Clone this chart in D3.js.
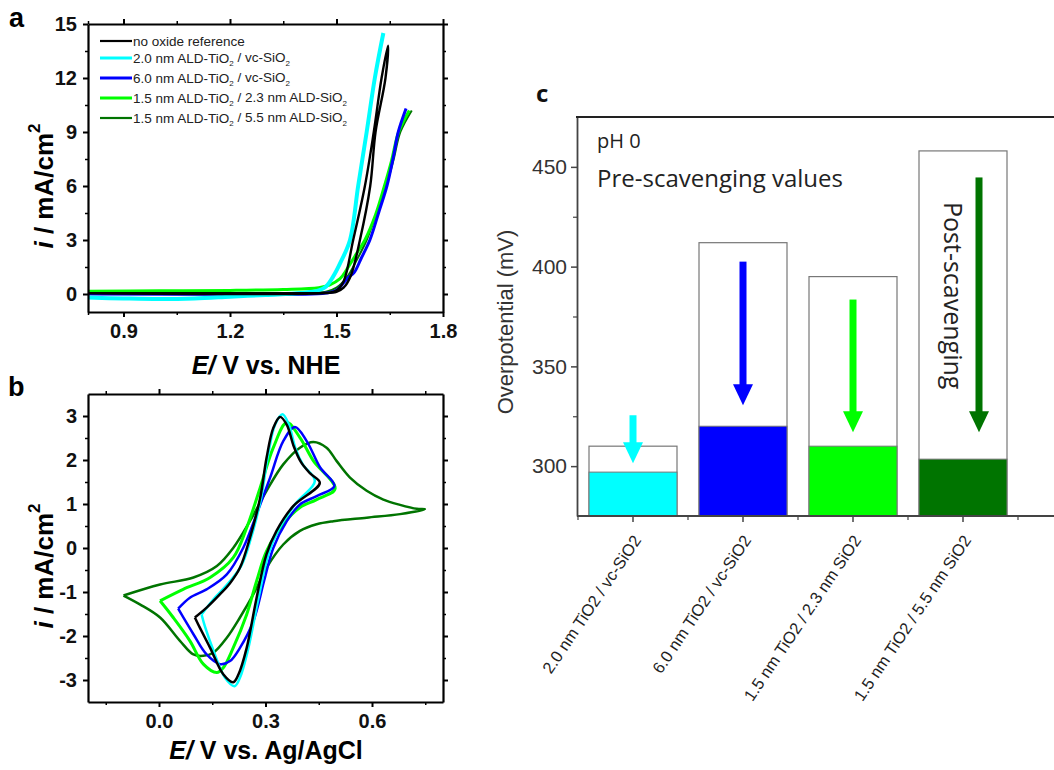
<!DOCTYPE html>
<html>
<head>
<meta charset="utf-8">
<script src="https://cdn.jsdelivr.net/npm/d3@7"></script>
<style>
body { margin: 0; background: #fff; }
</style>
</head>
<body>
<script>
// ---- panel a : LSV curves (E in V vs NHE, i in mA/cm2) ----
var lsvLabels = ['no oxide reference', '2.0 nm ALD-TiO_2 / vc-SiO_2', '6.0 nm ALD-TiO_2 / vc-SiO_2',
                 '1.5 nm ALD-TiO_2 / 2.3 nm ALD-SiO_2', '1.5 nm ALD-TiO_2 / 5.5 nm ALD-SiO_2'];
var lsvBlack = [[0.8,0.05],[1.3,0.05],[1.45,0.05],[1.48,0.08],[1.50,0.2],[1.52,0.7],[1.547,3.0],[1.58,6.0],[1.605,9.0],[1.627,12.0],[1.645,13.8],
                [1.638,12.0],[1.61,9.0],[1.595,6.0],[1.566,3.0],[1.54,1.0],[1.52,0.35],[1.50,0.12],[1.46,0.04],[0.8,0.04]];
var lsvCyan = [[0.8,-0.2],[0.9,-0.25],[1.0,-0.28],[1.1,-0.25],[1.2,-0.15],[1.3,-0.05],[1.4,0.05],[1.45,0.2],[1.47,0.4],[1.49,0.95],[1.51,1.7],[1.538,3.0],[1.561,6.0],[1.585,9.0],[1.608,12.0],[1.632,14.5]];
var lsvBlue = [[0.8,0.0],[1.3,-0.02],[1.4,-0.02],[1.47,0.05],[1.50,0.2],[1.532,0.9],[1.55,1.2],[1.57,2.0],[1.594,3.0],[1.62,4.6],[1.642,6.0],[1.66,7.6],[1.674,9.0],[1.696,10.3]];
var lsvGreen = [[0.8,0.15],[1.0,0.18],[1.2,0.2],[1.35,0.25],[1.45,0.35],[1.48,0.5],[1.51,0.85],[1.53,1.4],[1.555,2.2],[1.58,3.0],[1.61,4.4],[1.635,6.0],[1.655,7.4],[1.675,9.0],[1.705,10.2]];
var lsvDkGreen = [[0.8,0.05],[1.4,0.05],[1.47,0.12],[1.50,0.35],[1.53,0.95],[1.56,2.0],[1.585,3.0],[1.615,4.6],[1.64,6.0],[1.66,7.4],[1.68,9.0],[1.712,10.2]];

// ---- panel b : CV loops (E in V vs Ag/AgCl, i in mA/cm2) ----
var cvBlack = [[0.101,-1.58],[0.135,-1.35],[0.172,-1.05],[0.2,-0.8],[0.228,-0.45],[0.256,0.23],[0.285,1.14],[0.303,2.05],[0.322,2.73],[0.341,2.98],
               [0.36,2.8],[0.38,2.3],[0.40,1.95],[0.425,1.7],[0.453,1.48],[0.378,0.95],[0.331,0.39],[0.303,-0.14],[0.275,-1.13],[0.247,-2.27],
               [0.224,-2.87],[0.209,-3.05],[0.181,-2.87],[0.144,-2.27],[0.115,-1.81],[0.101,-1.58]];
var cvCyan = [[0.12,-1.51],[0.153,-1.17],[0.19,-0.85],[0.232,-0.4],[0.26,0.25],[0.288,1.15],[0.307,2.1],[0.327,2.8],[0.348,3.04],
              [0.366,2.8],[0.385,2.25],[0.405,1.9],[0.439,1.52],[0.386,1.02],[0.337,0.42],[0.308,-0.15],[0.28,-1.15],[0.251,-2.3],
              [0.228,-2.95],[0.213,-3.14],[0.186,-2.95],[0.152,-2.3],[0.13,-1.8],[0.12,-1.51]];
var cvBlue = [[0.054,-1.38],[0.087,-1.13],[0.134,-0.94],[0.191,-0.6],[0.237,0.0],[0.275,0.77],[0.313,1.6],[0.35,2.43],[0.383,2.75],
              [0.416,2.43],[0.454,1.83],[0.494,1.41],[0.444,1.18],[0.397,0.99],[0.36,0.61],[0.322,0.0],[0.296,-0.75],[0.266,-1.66],
              [0.228,-2.27],[0.2,-2.57],[0.172,-2.64],[0.134,-2.42],[0.097,-1.96],[0.054,-1.38]];
var cvGreen = [[0.003,-1.2],[0.068,-0.94],[0.144,-0.67],[0.209,-0.22],[0.247,0.46],[0.285,1.37],[0.322,2.28],[0.36,2.85],
               [0.397,2.51],[0.435,1.98],[0.496,1.35],[0.444,1.1],[0.397,0.92],[0.35,0.54],[0.303,-0.07],[0.275,-0.75],[0.247,-1.51],
               [0.209,-2.27],[0.181,-2.72],[0.163,-2.83],[0.125,-2.64],[0.087,-2.11],[0.04,-1.58],[0.003,-1.2]];
var cvDkGreen = [[-0.1,-1.08],[0.003,-0.83],[0.097,-0.67],[0.163,-0.41],[0.209,0.0],[0.256,0.61],[0.303,1.3],[0.35,1.9],[0.397,2.28],
                 [0.435,2.41],[0.472,2.28],[0.5,1.98],[0.538,1.6],[0.585,1.3],[0.632,1.1],[0.679,0.98],[0.726,0.89],[0.749,0.88],
                 [0.679,0.77],[0.585,0.69],[0.491,0.61],[0.444,0.54],[0.397,0.39],[0.35,0.08],[0.303,-0.45],[0.266,-1.05],[0.228,-1.58],
                 [0.191,-2.04],[0.153,-2.38],[0.125,-2.45],[0.097,-2.42],[0.059,-2.11],[0.003,-1.58],[-0.054,-1.28],[-0.1,-1.08]];

// ---- panel c : overpotentials (mV) ----
var samples = ['2.0 nm TiO2 / vc-SiO2', '6.0 nm TiO2 / vc-SiO2', '1.5 nm TiO2 / 2.3 nm SiO2', '1.5 nm TiO2 / 5.5 nm SiO2'];
var preValues = [310, 412, 395, 458];
var postValues = [297, 320, 310, 303.5];
var arrowFrom = [325.5, 402.5, 383.5, 444.7];
var arrowTo = [301.5, 330.5, 317, 317];

var colors = ['#000000', '#00ffff', '#0000ff', '#00ff00', '#007400'];
var barColors = ['#00ffff', '#0000ff', '#00ff00', '#007400'];
var ARIAL = 'Liberation Sans, Arial, sans-serif';

var svg = d3.select('body').append('svg')
    .attr('width', 1054)
    .attr('height', 770)
    .style('font-family', ARIAL);

// box with outward ticks on four sides
function frame(x, y, xMajor, xMinor, yMajor, yMinor, xFmt) {
    var r = x.range(), t = y.range();
    var sides = [
        [d3.axisBottom, x, 'translate(0,' + t[0] + ')', xMajor, xMinor, true],
        [d3.axisTop, x, 'translate(0,' + t[1] + ')', xMajor, xMinor, false],
        [d3.axisLeft, y, 'translate(' + r[0] + ',0)', yMajor, yMinor, true],
        [d3.axisRight, y, 'translate(' + r[1] + ',0)', yMajor, yMinor, false]
    ];
    sides.forEach(function(s, k) {
        var fmt = k < 2 ? xFmt : function(d) { return String(d); };
        var gMin = svg.append('g').attr('transform', s[2])
            .call(s[0](s[1]).tickValues(s[4]).tickSize(3).tickSizeOuter(0).tickFormat(''));
        gMin.select('.domain').remove();
        gMin.selectAll('line').attr('stroke-width', 1.5);
        var g = svg.append('g').attr('transform', s[2])
            .call(s[0](s[1]).tickValues(s[3]).tickSize(5).tickSizeOuter(0).tickPadding(k < 2 ? 7 : 6)
                .tickFormat(s[5] ? fmt : ''));
        g.select('.domain').attr('stroke-width', 2.2);
        g.selectAll('line').attr('stroke-width', 2);
        g.selectAll('text').attr('font-family', ARIAL).attr('font-size', 20)
            .attr('font-weight', 'bold').attr('fill', '#111');
    });
}

function rotLabel(cx, cy) {
    var t = svg.append('text').attr('transform', 'translate(' + cx + ',' + cy + ') rotate(-90)')
        .attr('text-anchor', 'middle').attr('font-size', 26).attr('font-weight', 'bold');
    t.append('tspan').attr('font-style', 'italic').text('i');
    t.append('tspan').text(' / mA/cm');
    t.append('tspan').attr('font-size', 17).attr('dy', '-0.75em').text('2');
}

function xLabel(cx, cy, rest) {
    var t = svg.append('text').attr('x', cx).attr('y', cy)
        .attr('text-anchor', 'middle').attr('font-size', 25).attr('font-weight', 'bold');
    t.append('tspan').attr('font-style', 'italic').text('E/');
    t.append('tspan').text(rest);
}

var line = function(x, y) {
    return d3.line().x(function(d) { return x(d[0]); }).y(function(d) { return y(d[1]); })
        .curve(d3.curveCatmullRom.alpha(0.5));
};

// ================= panel a =================
var xA = d3.scaleLinear().domain([0.8, 1.8]).range([88, 443]);
var yA = d3.scaleLinear().domain([-1, 15]).range([312, 24]);
var lsvSets = [lsvBlack, lsvCyan, lsvBlue, lsvGreen, lsvDkGreen];
var lsvW = [2.4, 4, 3, 3, 2];
[4, 3, 2, 1, 0].forEach(function(k) {
    svg.append('path').datum(lsvSets[k]).attr('fill', 'none')
        .attr('stroke', colors[k]).attr('stroke-width', lsvW[k])
        .attr('d', line(xA, yA));
});
frame(xA, yA, [0.9, 1.2, 1.5, 1.8], [0.8, 1.05, 1.35, 1.65],
      [0, 3, 6, 9, 12, 15], [1.5, 4.5, 7.5, 10.5, 13.5],
      d3.format('.1f'));

// legend
var legY = [41, 58, 78, 98, 118];
lsvLabels.forEach(function(lab, k) {
    svg.append('line').attr('x1', 100).attr('x2', 132).attr('y1', legY[k]).attr('y2', legY[k])
        .attr('stroke', colors[k]).attr('stroke-width', k === 0 || k === 4 ? 2.2 : 3);
    var t = svg.append('text').attr('x', 133).attr('y', legY[k] + 4.5).attr('font-size', 13.5).attr('fill', '#222');
    var parts = lab.split('_2');
    parts.forEach(function(p, i) {
        t.append('tspan').attr('dy', i > 0 ? '-0.3em' : 0).text(p);
        if (i < parts.length - 1) t.append('tspan').attr('font-size', 8).attr('dy', '0.45em').text('2');
    });
});

rotLabel(53, 186);
xLabel(266, 374, ' V vs. NHE');
svg.append('text').attr('x', 9).attr('y', 27).attr('font-size', 27).attr('font-weight', 'bold').text('a');

// ================= panel b =================
var xB = d3.scaleLinear().domain([-0.2, 0.8]).range([88, 443]);
var yB = d3.scaleLinear().domain([-3.5, 3.5]).range([702, 394]);
var cvSets = [cvBlack, cvCyan, cvBlue, cvGreen, cvDkGreen];
[4, 3, 2, 1, 0].forEach(function(k) {
    svg.append('path').datum(cvSets[k]).attr('fill', 'none')
        .attr('stroke', colors[k]).attr('stroke-width', k === 3 ? 3 : 2.5)
        .attr('d', line(xB, yB));
});
frame(xB, yB, [0, 0.3, 0.6], [-0.15, 0.15, 0.45, 0.75],
      [-3, -2, -1, 0, 1, 2, 3], [-2.5, -1.5, -0.5, 0.5, 1.5, 2.5],
      d3.format('.1f'));
rotLabel(53, 566);
xLabel(266, 759, ' V vs. Ag/AgCl');
svg.append('text').attr('x', 8).attr('y', 396).attr('font-size', 27).attr('font-weight', 'bold').text('b');

// ================= panel c =================
var xC = d3.scaleBand().domain(samples).range([578, 1018]).paddingInner(0.2).paddingOuter(0.1);
var yC = d3.scaleLinear().domain([275, 475]).range([516, 117]);
var gc = svg.append('g').attr('font-family', 'Open Sans, sans-serif');

gc.selectAll('rect.pre').data(preValues).enter().append('rect')
    .attr('x', function(d, i) { return xC(samples[i]); })
    .attr('width', xC.bandwidth())
    .attr('y', function(d) { return yC(d); })
    .attr('height', function(d) { return yC(275) - yC(d); })
    .attr('fill', '#fff').attr('stroke', '#777').attr('stroke-width', 1.2);

gc.selectAll('rect.post').data(postValues).enter().append('rect')
    .attr('x', function(d, i) { return xC(samples[i]); })
    .attr('width', xC.bandwidth())
    .attr('y', function(d) { return yC(d); })
    .attr('height', function(d) { return yC(275) - yC(d); })
    .attr('fill', function(d, i) { return barColors[i]; })
    .attr('stroke', '#777').attr('stroke-width', 1);

// arrows pre -> post
arrowFrom.forEach(function(v, i) {
    var cx = xC(samples[i]) + xC.bandwidth() / 2 + (i === 3 ? 16 : 0);
    var y0 = yC(v), y1 = yC(arrowTo[i]), hl = 21, hw = 10;
    gc.append('rect').attr('x', cx - 3.5).attr('y', y0).attr('width', 7).attr('height', y1 - hl - y0 + 1)
        .attr('fill', barColors[i]);
    gc.append('path').attr('d', 'M' + (cx - hw) + ',' + (y1 - hl) + 'L' + (cx + hw) + ',' + (y1 - hl) + 'L' + cx + ',' + y1 + 'Z')
        .attr('fill', barColors[i]);
});

// axes
var yAx = gc.append('g').attr('transform', 'translate(577,0)')
    .call(d3.axisLeft(yC).tickValues([300, 350, 400, 450]).tickSize(6).tickSizeOuter(0).tickPadding(4));
yAx.select('.domain').attr('stroke', '#444').attr('stroke-width', 1.8);
yAx.selectAll('line').attr('stroke', '#444').attr('stroke-width', 1.5);
yAx.selectAll('text').attr('font-family', ARIAL).attr('font-size', 21).attr('fill', '#333');
var yMin = gc.append('g').attr('transform', 'translate(577,0)')
    .call(d3.axisLeft(yC).tickValues([325, 375, 425]).tickSize(4).tickFormat(''));
yMin.select('.domain').remove();
yMin.selectAll('line').attr('stroke', '#444').attr('stroke-width', 1.2);

gc.append('line').attr('x1', 576).attr('x2', 1054).attr('y1', 117).attr('y2', 117)
    .attr('stroke', '#222').attr('stroke-width', 2);
gc.append('line').attr('x1', 577).attr('x2', 1054).attr('y1', 516).attr('y2', 516)
    .attr('stroke', '#444').attr('stroke-width', 1.8);

var xAx = gc.append('g').attr('transform', 'translate(0,516)')
    .call(d3.axisBottom(xC).tickSize(6).tickSizeOuter(0).tickFormat(''));
xAx.select('.domain').remove();
xAx.selectAll('line').attr('stroke', '#444').attr('stroke-width', 1.5);
[578, 688, 798, 908, 1018].forEach(function(b) {
    gc.append('line').attr('x1', b).attr('x2', b).attr('y1', 516).attr('y2', 520)
        .attr('stroke', '#444').attr('stroke-width', 1.2);
});

samples.forEach(function(s) {
    var cx = xC(s) + xC.bandwidth() / 2;
    gc.append('text').attr('transform', 'translate(' + (cx + 4) + ',537) rotate(-56)')
        .attr('text-anchor', 'end').attr('dy', '0.35em')
        .attr('font-family', ARIAL).attr('font-size', 16.5).attr('fill', '#222')
        .text(s);
});

gc.append('text').attr('transform', 'translate(513,322) rotate(-90)').attr('text-anchor', 'middle')
    .attr('font-family', ARIAL).attr('font-size', 22).attr('fill', '#333')
    .text('Overpotential (mV)');

gc.append('text').attr('x', 597).attr('y', 148).attr('font-size', 20).attr('fill', '#222').text('pH 0');
gc.append('text').attr('x', 597).attr('y', 187).attr('font-size', 24).attr('fill', '#222').text('Pre-scavenging values');
gc.append('text').attr('transform', 'translate(944,202) rotate(90)').attr('font-size', 25).attr('fill', '#222')
    .text('Post-scavenging');
gc.append('text').attr('x', 536).attr('y', 102).attr('font-size', 24).attr('font-weight', 'bold').attr('fill', '#111').text('c');
</script>
</body>
</html>
